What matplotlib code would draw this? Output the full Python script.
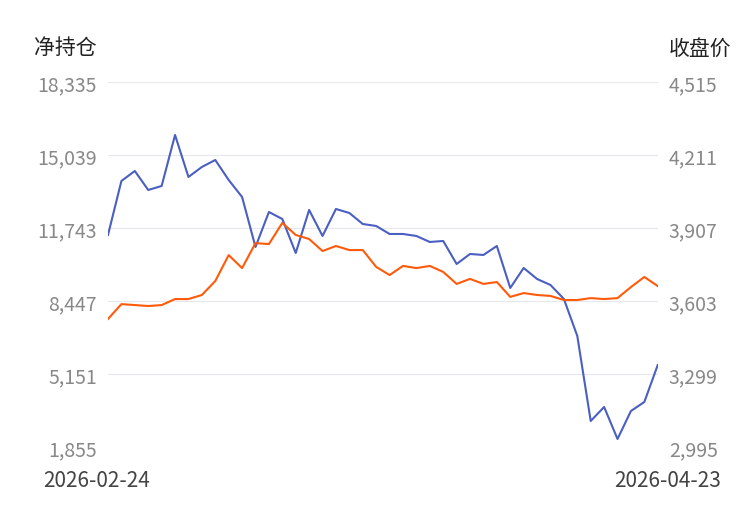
import matplotlib
matplotlib.use("Agg")
import matplotlib.pyplot as plt
import numpy as np

plt.rcParams['font.family'] = ['Noto Sans CJK SC', 'DejaVu Sans']

net_pos = [11427,13865,14316,13459,13639,15942,14046,14497,14813,13910,13143,10885,12465,12149,10614,
           12556,11382,12601,12420,11923,11833,11472,11472,11382,11111,11156,10117,10569,10524,10930,
           9034,9937,9440,9169,8537,6867,3029,3661,2216,3480,3887,5557]
close = [3528,3590,3586,3582,3586,3611,3611,3628,3686,3794,3740,3844,3840,3928,3878,3861,3811,3832,
         3815,3815,3745,3711,3749,3740,3749,3724,3674,3695,3674,3682,3620,3636,3628,3624,3607,3607,
         3615,3611,3615,3661,3703,3665]
left_ticks = [1855, 5151, 8447, 11743, 15039, 18335]
right_ticks = [2995, 3299, 3603, 3907, 4211, 4515]
start_label, end_label = "2026-02-24", "2026-04-23"

fig = plt.figure(figsize=(7.5, 5.1), dpi=100)
ax = fig.add_axes([0.144, 0.1216, 0.733, 0.7157])
ax2 = ax.twinx()
x = np.arange(len(net_pos))
ax.plot(x, net_pos, color='#4a5fc1', lw=1.5)
ax2.plot(x, close, color='#ff5a0a', lw=1.5)
ax.set_xlim(0, len(x)-1)
ax.set_ylim(left_ticks[0], left_ticks[-1])
ax2.set_ylim(right_ticks[0], right_ticks[-1])
ax.set_yticks(left_ticks)
ax.set_yticklabels([f"{v:,}" for v in left_ticks])
ax2.set_yticks(right_ticks)
ax2.set_yticklabels([f"{v:,}" for v in right_ticks])
ax.grid(axis='y', color='#e6e8ee', lw=0.8)
ax.set_xticks([])
for a in (ax, ax2):
    for s in a.spines.values():
        s.set_visible(False)
    a.tick_params(axis='y', length=0, labelsize=14, labelcolor='#888888', pad=8)
fig.text(0.045, 0.905, "净持仓", fontsize=15, color='#222222', va='center')
fig.text(0.975, 0.905, "收盘价", fontsize=15, color='#222222', va='center', ha='right')
fig.text(0.058, 0.057, start_label, fontsize=15, color='#444444', va='center')
fig.text(0.962, 0.057, end_label, fontsize=15, color='#444444', va='center', ha='right')
fig.savefig("out.png", dpi=100)
